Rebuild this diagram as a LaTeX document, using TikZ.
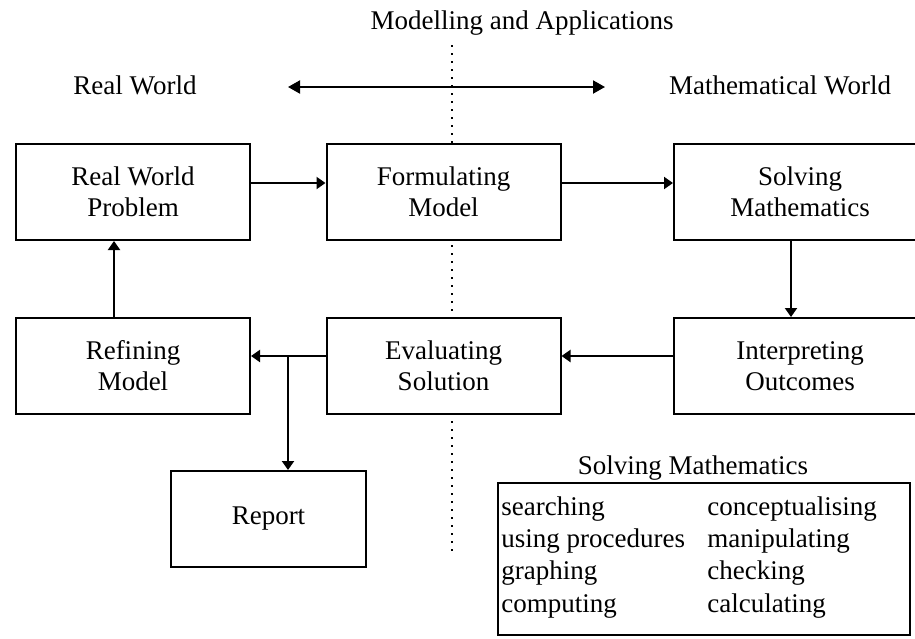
\documentclass[tikz,border=0pt]{standalone}
\usepackage{fontspec}
\setmainfont{Liberation Serif}
\usetikzlibrary{arrows.meta}
\begin{document}
\begin{tikzpicture}[x=0.5pt,y=-0.5pt,
  every node/.style={font=\fontsize{13.5}{15.5}\selectfont, inner sep=0pt},
  stage/.style={draw, line width=1pt, fill=white, align=center,
                minimum width=117pt, minimum height=48pt},
  widestage/.style={stage, minimum width=126pt},
  arr/.style={line width=1pt, -{Triangle[length=4.5pt,width=6pt]}},
  twoway/.style={line width=1pt, {Triangle[length=6pt,width=6.5pt]}-{Triangle[length=6pt,width=6.5pt]}},
  guide/.style={line width=0.8pt, dash pattern=on 0.8pt off 3.2pt}]
\useasboundingbox (0,0) rectangle (915,638);
\clip (0,0) rectangle (915,638);
\fill[white] (0,0) rectangle (915,638);

% divider between the two worlds
\coordinate (dtop) at (452,45);
\coordinate (dbot) at (452,556);
\draw[guide] (dtop) -- (dbot);

% headings
\node[anchor=base] (title) at (522,29) {Modelling and Applications};
\node[anchor=base] (realw) at (135,94) {Real World};
\node[anchor=base] (mathw) at (780,94) {Mathematical World};
\coordinate (la) at (288,87);
\coordinate (ra) at (605,87);
\draw[twoway] (la) -- (ra);

% modelling cycle
\node[stage] (rwp) at (133,192) {Real World\\Problem};
\node[stage] (form) at (443.5,192) {Formulating\\Model};
\node[widestage] (solv) at (800,192) {Solving\\Mathematics};
\node[stage] (refine) at (133,366) {Refining\\Model};
\node[stage] (eval) at (443.5,366) {Evaluating\\Solution};
\node[widestage] (interp) at (800,366) {Interpreting\\Outcomes};
\node[stage, minimum width=97.5pt] (report) at (268.5,519) {Report};

% connector rails
\coordinate (toprow) at (0,183);
\coordinate (botrow) at (0,356);
\coordinate (xl) at (114,0);
\coordinate (xr) at (791,0);
\coordinate (xb) at (288,0);

\draw[arr] (rwp.east |- toprow) -- (form.west |- toprow);
\draw[arr] (form.east |- toprow) -- (solv.west |- toprow);
\draw[arr] (solv.south -| xr) -- (interp.north -| xr);
\draw[arr] (interp.west |- botrow) -- (eval.east |- botrow);
\draw[arr] (eval.west |- botrow) -- (refine.east |- botrow);
\draw[arr] (xb |- botrow) -- (report.north -| xb);
\draw[arr] (refine.north -| xl) -- (rwp.south -| xl);

% skills used while solving
\node[anchor=base] (skillhead) at (693,474) {Solving Mathematics};
\node[draw, line width=1pt, minimum width=206pt, minimum height=76pt] (skills) at (704,559) {};
\node[anchor=base west] (s1) at (501,515) {searching};
\node[anchor=base west] (s2) at (501,547) {using procedures};
\node[anchor=base west] (s3) at (501,579) {graphing};
\node[anchor=base west] (s4) at (501,612) {computing};
\node[anchor=base west] (s5) at (707,515) {conceptualising};
\node[anchor=base west] (s6) at (707,547) {manipulating};
\node[anchor=base west] (s7) at (707,579) {checking};
\node[anchor=base west] (s8) at (707,612) {calculating};
\end{tikzpicture}
\end{document}
